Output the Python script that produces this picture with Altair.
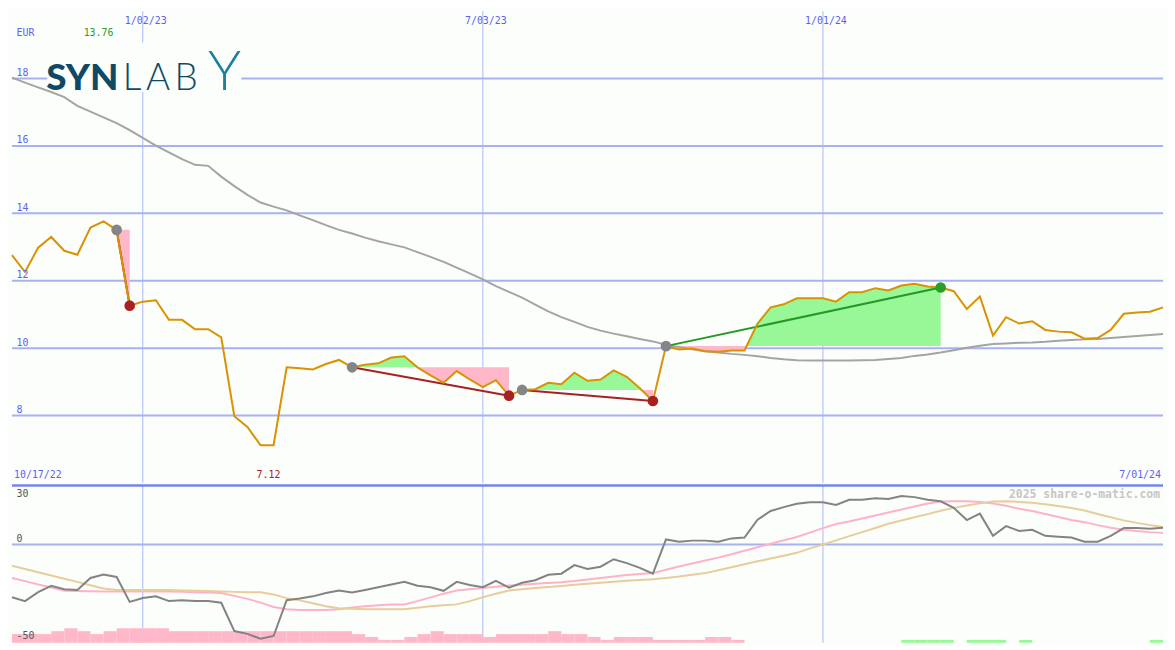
import altair as alt
import pandas as pd

# ---------------- data (weekly) ----------------
START = "2022-10-24"
N_WEEKS = 89

price = [12.76, 12.26, 12.98, 13.30, 12.89, 12.77, 13.58, 13.76, 13.51, 11.26,
         11.38, 11.42, 10.84, 10.84, 10.56, 10.56, 10.32, 7.98, 7.66, 7.12,
         7.12, 9.43, 9.40, 9.37, 9.53, 9.65, 9.43, 9.51, 9.55, 9.72,
         9.76, 9.43, 9.19, 8.97, 9.32, 9.07, 8.84, 9.05, 8.59, 8.76,
         8.78, 8.97, 8.93, 9.27, 9.03, 9.07, 9.34, 9.15, 8.81, 8.43,
         10.06, 9.96, 9.99, 9.91, 9.89, 9.93, 9.93, 10.73, 11.21, 11.30,
         11.48, 11.48, 11.48, 11.38, 11.66, 11.66, 11.78, 11.71, 11.86, 11.91,
         11.83, 11.80, 11.69, 11.16, 11.53, 10.37, 10.92, 10.73, 10.80, 10.54,
         10.49, 10.47, 10.28, 10.30, 10.54, 11.02, 11.06, 11.08, 11.21]

ma40 = [18.03, 17.88, 17.74, 17.60, 17.45, 17.19, 17.02, 16.85, 16.68, 16.47,
        16.24, 16.01, 15.81, 15.61, 15.44, 15.41, 15.09, 14.81, 14.55, 14.32,
        14.20, 14.09, 13.94, 13.80, 13.65, 13.51, 13.40, 13.28, 13.17, 13.08,
        12.99, 12.85, 12.71, 12.56, 12.39, 12.22, 12.04, 11.84, 11.67, 11.50,
        11.29, 11.09, 10.92, 10.78, 10.63, 10.52, 10.43, 10.35, 10.27, 10.20,
        10.10, 10.03, 9.97, 9.91, 9.87, 9.83, 9.80, 9.76, 9.71, 9.67,
        9.64, 9.63, 9.63, 9.63, 9.63, 9.64, 9.65, 9.68, 9.71, 9.77,
        9.81, 9.87, 9.94, 10.01, 10.07, 10.12, 10.14, 10.16, 10.17, 10.19,
        10.22, 10.24, 10.26, 10.27, 10.30, 10.33, 10.36, 10.39, 10.42]

osc = [-35.4, -38.0, -32.0, -27.7, -30.0, -30.5, -22.5, -20.1, -21.8, -38.5,
       -35.9, -34.8, -38.0, -37.4, -38.0, -38.0, -39.1, -58.1, -60.0, -63.3,
       -61.4, -37.4, -36.3, -34.8, -32.6, -30.9, -32.2, -30.5, -28.7, -26.8,
       -25.1, -27.7, -28.7, -31.1, -25.1, -27.2, -28.7, -24.4, -29.0, -25.7,
       -24.0, -20.3, -19.6, -13.8, -16.4, -14.9, -9.9, -12.5, -15.7, -19.6,
       3.4, 1.9, 2.6, 2.6, 1.9, 4.1, 4.7, 16.6, 22.5, 25.1,
       27.4, 28.3, 28.3, 26.6, 30.0, 30.0, 31.1, 30.5, 32.6, 31.8,
       30.0, 29.0, 24.6, 16.4, 20.7, 5.8, 12.3, 9.1, 9.9, 5.8,
       5.2, 4.7, 1.9, 1.9, 5.8, 11.0, 11.0, 10.6, 11.2]

osc_fast = [-22.5, -24.6, -26.8, -28.9, -31.1, -31.2, -31.4, -31.5, -31.5, -31.5,
            -31.5, -31.5, -31.5, -31.8, -32.0, -32.3, -32.6, -34.5, -36.5, -39.0,
            -41.9, -43.5, -43.9, -43.9, -43.9, -43.5, -42.3, -41.5, -40.8, -40.2,
            -40.2, -38.0, -35.5, -33.0, -30.9, -30.0, -29.2, -28.3, -27.6, -27.0,
            -26.4, -25.8, -25.3, -24.5, -23.5, -22.5, -21.5, -20.5, -19.8, -19.2,
            -17.0, -14.8, -12.8, -10.8, -8.8, -6.5, -4.2, -1.8, 0.5, 2.8,
            5.0, 8.0, 11.0, 13.8, 15.5, 17.5, 19.5, 21.5, 23.5, 25.5,
            27.5, 28.8, 29.0, 29.0, 28.5, 27.5, 26.0, 24.0, 22.5, 20.5,
            18.5, 16.5, 15.0, 13.0, 11.3, 9.9, 9.0, 8.3, 7.8]

osc_slow = [-14.3, -16.5, -18.6, -20.8, -23.0, -25.1, -27.3, -29.5, -30.5, -30.5,
            -30.5, -30.5, -30.5, -30.8, -31.0, -31.2, -31.5, -31.8, -32.0, -32.0,
            -33.5, -36.0, -37.5, -39.5, -41.5, -42.8, -43.2, -43.4, -43.4, -43.4,
            -43.4, -42.5, -41.5, -40.8, -40.2, -38.0, -35.4, -33.0, -30.9, -30.0,
            -29.2, -28.5, -27.8, -27.0, -26.3, -25.7, -25.0, -24.4, -23.8, -23.3,
            -22.5, -21.5, -20.3, -19.2, -17.3, -15.3, -13.2, -11.3, -9.4, -7.5,
            -5.6, -2.6, 0.0, 2.8, 5.6, 8.3, 11.1, 13.9, 16.1, 18.3,
            20.4, 22.6, 24.6, 26.2, 27.6, 28.8, 29.0, 28.6, 28.0, 27.0,
            25.8, 24.5, 22.8, 20.5, 18.3, 16.2, 14.5, 13.0, 11.7]

neg_bars = [3, 3, 3, 4, 5, 4, 3, 4, 5, 5,
            5, 5, 4, 4, 4, 4, 4, 4, 4, 4,
            4, 4, 4, 4, 4, 4, 3, 2, 1, 1,
            2, 3, 4, 3, 3, 3, 2, 3, 3, 3,
            3, 4, 3, 3, 2, 1, 2, 2, 2, 1,
            1, 1, 1, 2, 2, 1] + [0] * 33
pos_bars = [0] * 68 + [1, 1, 1, 1, 0, 1, 1, 1, 0, 1] + [0] * 9 + [1, 0]

# trend segments: (start week, end week, direction)
segments = [(8, 9, "down"), (26, 38, "down"), (39, 49, "down"), (50, 71, "up")]

price_ticks = [8, 10, 12, 14, 16, 18]
osc_ticks = [30, 0]
date_ticks = ["2023-01-02", "2023-07-03", "2024-01-01"]
date_tick_labels = ["1/02/23", "7/03/23", "1/01/24"]
first_label = "10/17/22"
last_label = "7/01/24"

# ---------------- styling ----------------
W, H1, H2 = 1159, 475, 159
BG = "#fcfefc"
LBL = "#5a63ee"
GRID = "#a6b2f2"
VGRID = "#abb7f7"
SEP = "#7484ea"
MONO = "DejaVu Sans Mono"

dates = pd.date_range(START, periods=N_WEEKS, freq="7D")


def iso(t):
    return pd.Timestamp(t).strftime("%Y-%m-%dT%H:%M:%SZ")


df = pd.DataFrame({
    "date": [iso(d) for d in dates],
    "date2": [iso(d + pd.Timedelta(days=7)) for d in dates],
    "price": price, "ma": ma40, "osc": osc, "fast": osc_fast, "slow": osc_slow,
    "neg": neg_bars, "pos": pos_bars, "zero": 0,
})

xscale = alt.Scale(type="utc", nice=False,
                   domain=[alt.DateTime(year=2022, month=10, date=24, utc=True),
                           alt.DateTime(year=2024, month=7, date=1, utc=True)])


def X(f):
    return alt.X(f"{f}:T", scale=xscale, axis=None)


def Yt(f):
    return alt.Y(f"{f}:Q", scale=alt.Scale(domain=[6, 20], nice=False, zero=False), axis=None)


def Yb(f):
    return alt.Y(f"{f}:Q", scale=alt.Scale(domain=[-66, 40], nice=False, zero=False), axis=None)


# fills between price and trend start level
g_rows, p_rows = [], []
for s, (a, b, _) in enumerate(segments):
    L = price[a]
    pts = []
    for i in range(a, b + 1):
        if i > a:
            p0, p1 = price[i - 1], price[i]
            if (p0 - L) * (p1 - L) < 0:
                f = (L - p0) / (p1 - p0)
                pts.append((dates[i - 1] + (dates[i] - dates[i - 1]) * f, L))
        pts.append((dates[i], price[i]))
    for t, p in pts:
        g_rows.append({"seg": s, "date": iso(t), "top": max(p, L), "base": L})
        p_rows.append({"seg": s, "date": iso(t), "top": min(p, L), "base": L})
green_fill = pd.DataFrame(g_rows)
pink_fill = pd.DataFrame(p_rows)

trend_rows, dot_rows = [], []
for s, (a, b, d) in enumerate(segments):
    col = "#a52222" if d == "down" else "#249a24"
    trend_rows += [{"seg": s, "date": iso(dates[a]), "v": price[a], "col": col},
                   {"seg": s, "date": iso(dates[b]), "v": price[b], "col": col}]
    dot_rows += [{"date": iso(dates[a]), "v": price[a], "col": "#858585"},
                 {"date": iso(dates[b]), "v": price[b], "col": "#a82020" if d == "down" else "#2a9e2a"}]
trend = pd.DataFrame(trend_rows)
dots = pd.DataFrame(dot_rows)

vlines = pd.DataFrame({"date": [d + "T00:00:00Z" for d in date_ticks], "t": date_tick_labels})
hgrid_top = pd.DataFrame({"v": price_ticks, "t": [str(v) for v in price_ticks]})
hgrid_bot = pd.DataFrame({"v": osc_ticks, "t": [str(v) for v in osc_ticks]})

imax = price.index(max(price))
imin = price.index(min(price))

# ---------------- top panel ----------------
t_vgrid = alt.Chart(vlines).mark_rule(color=VGRID, strokeWidth=1).encode(x=X("date"))
t_hgrid = alt.Chart(hgrid_top).mark_rule(color=GRID, strokeWidth=2).encode(y=Yt("v"))
logo_bg = alt.Chart(pd.DataFrame({"a": [0]})).mark_rect(color=BG).encode(
    x=alt.value(35.5), x2=alt.value(231), y=alt.value(31.5), y2=alt.value(81.5))
t_green = alt.Chart(green_fill).mark_area(color="#98f898", opacity=1).encode(
    x=X("date"), y=Yt("top"), y2=alt.Y2("base"), detail="seg:N")
t_pink = alt.Chart(pink_fill).mark_area(color="#ffb7c9", opacity=1).encode(
    x=X("date"), y=Yt("top"), y2=alt.Y2("base"), detail="seg:N")
t_ma = alt.Chart(df).mark_line(color="#a4a4a4", strokeWidth=2).encode(x=X("date"), y=Yt("ma"))
t_trend = alt.Chart(trend).mark_line(strokeWidth=2).encode(
    x=X("date"), y=Yt("v"), color=alt.Color("col:N", scale=None), detail="seg:N")
t_price = alt.Chart(df).mark_line(color="#d99200", strokeWidth=2).encode(x=X("date"), y=Yt("price"))
t_dots = alt.Chart(dots).mark_circle(size=115, opacity=1).encode(
    x=X("date"), y=Yt("v"), color=alt.Color("col:N", scale=None))

txt = dict(font=MONO, fontSize=10)
t_ylab = alt.Chart(hgrid_top).mark_text(align="left", baseline="alphabetic", dy=-2.5, color=LBL, **txt).encode(
    x=alt.value(4.5), y=Yt("v"), text="t:N")
t_dlab = alt.Chart(vlines).mark_text(align="center", baseline="alphabetic", dx=3, color=LBL, **txt).encode(
    x=X("date"), y=alt.value(12.5), text="t:N")
t_eur = alt.Chart(pd.DataFrame({"t": ["EUR"]})).mark_text(align="left", baseline="alphabetic", color=LBL, **txt).encode(
    x=alt.value(4.5), y=alt.value(24.5), text="t:N")
t_max = alt.Chart(pd.DataFrame({"date": [iso(dates[imax])], "t": [f"{max(price):.2f}"]})).mark_text(
    align="center", baseline="alphabetic", dx=-5, color="#2a9a2a", **txt).encode(
    x=X("date"), y=alt.value(24.5), text="t:N")
t_min = alt.Chart(pd.DataFrame({"date": [iso(dates[imin])], "t": [f"{min(price):.2f}"]})).mark_text(
    align="center", baseline="alphabetic", dx=8, color="#a82020", **txt).encode(
    x=X("date"), y=alt.value(H1 - 4.5), text="t:N")
t_first = alt.Chart(pd.DataFrame({"t": [first_label]})).mark_text(
    align="left", baseline="alphabetic", color=LBL, **txt).encode(
    x=alt.value(2), y=alt.value(H1 - 4.5), text="t:N")
t_last = alt.Chart(pd.DataFrame({"t": [last_label]})).mark_text(
    align="right", baseline="alphabetic", color=LBL, **txt).encode(
    x=alt.value(W - 2), y=alt.value(H1 - 4.5), text="t:N")

logo_syn = alt.Chart(pd.DataFrame({"t": ["SYN"]})).mark_text(
    align="left", baseline="alphabetic", font="Lato", fontSize=37, fontWeight=900, color="#0e4a66").encode(
    x=alt.value(34.5), y=alt.value(79), text="t:N")
logo_lab = alt.Chart(pd.DataFrame({"t": ["L\u2009A\u2009B"]})).mark_text(
    align="left", baseline="alphabetic", font="Lato", fontSize=37, fontWeight=300, color="#0e4a66").encode(
    x=alt.value(111.5), y=alt.value(79), text="t:N")
logo_y = alt.Chart(pd.DataFrame({"t": ["Y"]})).mark_text(
    align="center", baseline="alphabetic", font="Lato", fontSize=56, fontWeight=300, color="#1a7fa0").encode(
    x=alt.value(214), y=alt.value(79), text="t:N")

top = alt.layer(t_vgrid, t_hgrid, logo_bg, t_pink, t_green, t_ma, t_trend, t_price, t_dots,
                t_ylab, t_dlab, t_eur, t_max, t_min, t_first, t_last,
                logo_syn, logo_lab, logo_y).properties(width=W, height=H1)

# ---------------- bottom panel ----------------
bar_y = alt.Scale(domain=[0, 54.3], nice=False, zero=False)
b_vgrid = alt.Chart(vlines).mark_rule(color=VGRID, strokeWidth=1).encode(x=X("date"))
b_zero = alt.Chart(hgrid_bot[hgrid_bot.v == 0]).mark_rule(color=GRID, strokeWidth=2).encode(y=Yb("v"))
b_sep = alt.Chart(pd.DataFrame({"a": [0]})).mark_rule(color=SEP, strokeWidth=2.5).encode(
    x=alt.value(0), x2=alt.value(W), y=alt.value(0.5))
b_neg = alt.Chart(df[df.neg > 0]).mark_rect(color="#ffb7c9").encode(
    x=X("date"), x2=alt.X2("date2"),
    y=alt.Y("neg:Q", scale=bar_y, axis=None), y2=alt.Y2("zero"))
b_pos = alt.Chart(df[df.pos > 0]).mark_rect(color="#98f898").encode(
    x=X("date"), x2=alt.X2("date2"),
    y=alt.Y("pos:Q", scale=bar_y, axis=None), y2=alt.Y2("zero"))
b_fast = alt.Chart(df).mark_line(color="#ffb1c8", strokeWidth=2).encode(x=X("date"), y=Yb("fast"))
b_slow = alt.Chart(df).mark_line(color="#e6cd9a", strokeWidth=2).encode(x=X("date"), y=Yb("slow"))
b_osc = alt.Chart(df).mark_line(color="#838383", strokeWidth=2).encode(x=X("date"), y=Yb("osc"))
b_ylab = alt.Chart(hgrid_bot).mark_text(align="left", baseline="alphabetic", dy=-2.5, color="#555555", **txt).encode(
    x=alt.value(4.5), y=Yb("v"), text="t:N")
b_m50 = alt.Chart(pd.DataFrame({"t": ["-50"]})).mark_text(
    align="left", baseline="alphabetic", color="#555555", **txt).encode(
    x=alt.value(4.5), y=alt.value(H2 - 3.5), text="t:N")
b_wm = alt.Chart(pd.DataFrame({"t": ["2025 share-o-matic.com"]})).mark_text(
    align="right", baseline="alphabetic", font=MONO, fontSize=11.5, fontWeight="bold", color="#c6c6c6").encode(
    x=alt.value(W - 3), y=alt.value(13), text="t:N")

bottom = alt.layer(b_vgrid, b_zero, b_neg, b_pos, b_fast, b_slow, b_osc,
                   b_ylab, b_m50, b_wm, b_sep).resolve_scale(y="independent").properties(width=W, height=H2)

chart = alt.vconcat(top, bottom, spacing=0).properties(
    padding=0, background=BG).configure_view(strokeWidth=0)

chart.save("out.html", embed_options={"renderer": "svg", "actions": False})
